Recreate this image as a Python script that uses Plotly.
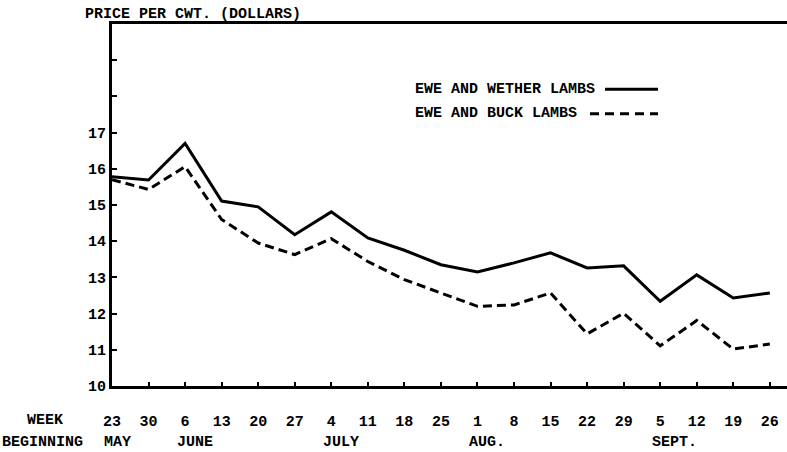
import plotly.graph_objects as go

weeks = ["23", "30", "6", "13", "20", "27", "4", "11", "18", "25", "1", "8", "15", "22", "29", "5", "12", "19", "26"]
month_names = ["MAY", "JUNE", "JULY", "AUG.", "SEPT."]
month_start_idx = [0, 2, 6, 10, 15]
ewe_wether = [15.78, 15.69, 16.70, 15.11, 14.95, 14.18, 14.81, 14.09, 13.75, 13.35, 13.15, 13.40, 13.68, 13.26, 13.32, 12.34, 13.07, 12.43, 12.57]
ewe_buck = [15.70, 15.43, 16.06, 14.60, 13.95, 13.63, 14.07, 13.44, 12.94, 12.57, 12.20, 12.24, 12.57, 11.44, 12.01, 11.11, 11.81, 11.02, 11.16]
y_tickvals = [10, 11, 12, 13, 14, 15, 16, 17, 18, 19]
y_ticktext = ["10", "11", "12", "13", "14", "15", "16", "17", "", ""]
series_names = ["EWE AND WETHER LAMBS", "EWE AND BUCK LAMBS"]

FONT = dict(family="Liberation Mono", size=15, color="black", weight="bold")
x_idx = list(range(len(weeks)))

fig = go.Figure()
fig.add_trace(go.Scatter(x=x_idx, y=ewe_wether, mode="lines", name=series_names[0],
                         line=dict(color="black", width=3), showlegend=False))
fig.add_trace(go.Scatter(x=x_idx, y=ewe_buck, mode="lines", name=series_names[1],
                         line=dict(color="black", width=3, dash="9px,5px"), showlegend=False))

fig.update_layout(
    width=787, height=452,
    margin=dict(l=112, r=0, t=24, b=66, autoexpand=False),
    paper_bgcolor="white", plot_bgcolor="white",
    font=FONT,
    xaxis=dict(range=[0, 18.47], tickvals=x_idx, ticktext=weeks,
               showgrid=False, zeroline=False, automargin=False,
               showline=True, linecolor="black", linewidth=3, mirror=True,
               ticks="inside", ticklen=4, tickwidth=2, tickcolor="black",
               ticklabelstandoff=19, tickfont=FONT),
    yaxis=dict(range=[10, 20], tickvals=y_tickvals, ticktext=y_ticktext,
               showgrid=False, zeroline=False, automargin=False,
               showline=True, linecolor="black", linewidth=3,
               ticks="inside", ticklen=5, tickwidth=2, tickcolor="black",
               tickfont=FONT),
)

ann = []
ann.append(dict(text="PRICE PER CWT. (DOLLARS)", xref="paper", yref="paper",
                x=(83 - 112) / 675, y=1.0, xanchor="left", yanchor="bottom",
                yshift=-1, showarrow=False, font=FONT))
for name, idx in zip(month_names, month_start_idx):
    ann.append(dict(text=name, xref="x", yref="paper", x=idx, y=-0.155,
                    xanchor="left", yanchor="middle", xshift=-10, showarrow=False, font=FONT))
ann.append(dict(text="WEEK", xref="paper", yref="paper", x=(25 - 112) / 675, y=-0.094,
                xanchor="left", yanchor="middle", showarrow=False, font=FONT))
ann.append(dict(text="BEGINNING", xref="paper", yref="paper", x=(0 - 112) / 675, y=-0.155,
                xanchor="left", yanchor="middle", showarrow=False, font=FONT))
# legend
ann.append(dict(text=series_names[0], xref="paper", yref="paper", x=(413 - 112) / 675, y=0.82,
                xanchor="left", yanchor="middle", showarrow=False, font=FONT))
ann.append(dict(text=series_names[1], xref="paper", yref="paper", x=(413 - 112) / 675, y=0.752,
                xanchor="left", yanchor="middle", showarrow=False, font=FONT))
fig.update_layout(annotations=ann)

fig.add_shape(type="line", xref="paper", yref="paper", x0=(605 - 112) / 675, x1=(658 - 112) / 675,
              y0=0.82, y1=0.82, line=dict(color="black", width=3))
fig.add_shape(type="line", xref="paper", yref="paper", x0=(590 - 112) / 675, x1=(658 - 112) / 675,
              y0=0.752, y1=0.752, line=dict(color="black", width=3, dash="9px,6px"))

fig.write_html("out.html", config={"displayModeBar": False},
               post_script="document.body.style.margin='0';document.body.style.overflow='hidden';")
